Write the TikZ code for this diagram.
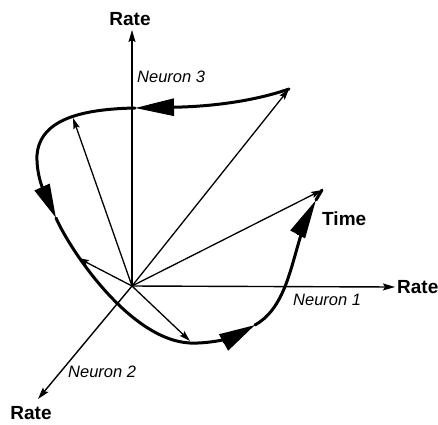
\documentclass[tikz,border=0pt]{standalone}
\usepackage{fontspec}
\setmainfont{Liberation Sans}
\usetikzlibrary{arrows.meta}
\begin{document}
\begin{tikzpicture}[x=1pt,y=-1pt,
  axis/.style={line width=1.4pt, -{Stealth[length=12pt,width=7pt,inset=2pt]}},
  vec/.style={line width=1.3pt, -{Stealth[length=11pt,width=6.5pt,inset=2pt]}},
  traj/.style={line width=3pt, line cap=round, line join=round},
  axlab/.style={inner sep=0pt, font=\fontsize{19}{21}\selectfont\bfseries},
  nlab/.style={inner sep=0pt, font=\fontsize{16.5}{18}\selectfont\itshape}]
\useasboundingbox (0,0) rectangle (438,424);
% origin and vector tips
\coordinate (O) at (132,286);
\coordinate (ztop) at (132,30);
\coordinate (xend) at (395,287);
\coordinate (yend) at (38,399);
\coordinate (a1) at (289,89);
\coordinate (a2) at (73,118);
\coordinate (a3) at (322,190);
\coordinate (a4) at (78,258);
\coordinate (a5) at (190,341);
% tips of the big arrows on the trajectory
\coordinate (t1) at (135,108);
\coordinate (t2) at (56,218);
\coordinate (t3) at (255,325);
\coordinate (t4) at (316,200);
% axes
\draw[axis] (O) -- (ztop);
\draw[axis] (O) -- (xend);
\draw[axis] (O) -- (yend);
% state vectors
\draw[vec] (O) -- (a1);
\draw[vec] (O) -- (a2);
\draw[vec] (O) -- (a3);
\draw[vec] (O) -- (a4);
\draw[vec] (O) -- (a5);
% trajectory
\draw[traj, -{Triangle[length=39pt,width=17pt]}] (a1) .. controls (240,106) and (185,107) .. (t1);
\draw[traj, -{Triangle[length=34pt,width=16pt]}] (t1) .. controls (85,109) and (40,118) .. (37,155)
   .. controls (36,178) and (47,198) .. (t2);
\draw[traj, -{Triangle[length=36pt,width=18pt]}] (t2) .. controls (70,250) and (130,340) .. (190,343)
   .. controls (215,344) and (237,335) .. (t3);
\draw[traj, -{Triangle[length=39pt,width=16pt]}] (t3) .. controls (280,311) and (288,280) .. (296,252)
   .. controls (302,230) and (308,215) .. (t4);
\draw[traj] (t4) -- (a3);
% labels
\node[axlab] (rz) at (130,19) {Rate};
\node[axlab, anchor=west] (rx) at (397,287) {Rate};
\node[axlab] (ry) at (31,413) {Rate};
\node[axlab, anchor=west] (time) at (322,219) {Time};
\node[nlab, anchor=west] (n3) at (137,76.5) {Neuron 3};
\node[nlab, anchor=west] (n1) at (293,299.5) {Neuron 1};
\node[nlab, anchor=west] (n2) at (68,371.5) {Neuron 2};
\end{tikzpicture}
\end{document}
